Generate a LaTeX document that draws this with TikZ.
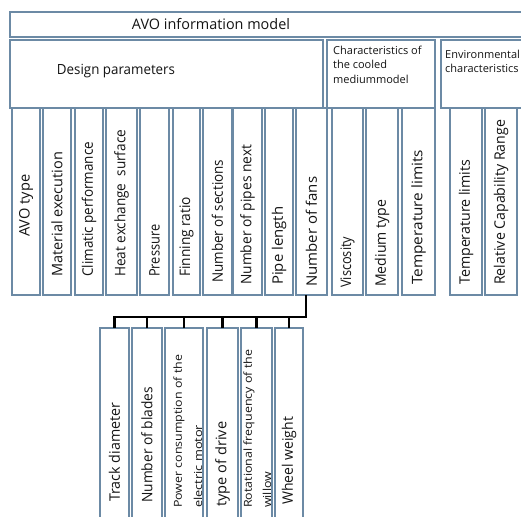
\documentclass[tikz,border=0pt]{standalone}
\usepackage{fontspec}
\setmainfont{Open Sans}
\usepackage{graphicx}
\definecolor{bcol}{RGB}{108,138,165}
\definecolor{tcol}{RGB}{20,20,20}
\tikzset{
  box/.style={draw=bcol, line width=1.6pt, inner sep=0pt, outer sep=0pt, anchor=north west},
  vt/.style={rotate=90, anchor=west, inner sep=0pt, text=tcol, font=\fontsize{14.5}{16}\selectfont},
  vts/.style={rotate=90, anchor=west, inner sep=0pt, text=tcol, font=\fontsize{11}{13}\selectfont},
  ht/.style={inner sep=0pt, text=tcol},
  bus/.style={line width=2.6pt, draw=black}
}
% name, x1, x2, y1, y2, text, text bottom y, text length
\newcommand\vcol[8]{%
  \node[box, minimum width={#3-#2}, minimum height={#5-#4}] (#1) at (#2,#4) {};
  \node[vt] (#1t) at ({(#2+#3)/2},#7) {\resizebox{#8pt}{\height}{#6}};
}
\begin{document}
\begin{tikzpicture}[x=1pt,y=-1pt]
\useasboundingbox (0,0) rectangle (521,516);
\clip (0,0) rectangle (521,516);
\fill[white] (0,0) rectangle (521,516);
% top level
\node[box, minimum width=540, minimum height=25] (top) at (10,12) {};
\node[ht, font=\fontsize{14.5}{16}\selectfont] (topt) at (211,24.5) {\resizebox{158pt}{\height}{AVO information model}};
% groups
\node[box, minimum width=313, minimum height=68] (design) at (10,40) {};
\node[ht, font=\fontsize{14}{16}\selectfont] (designt) at (116,71.5) {\resizebox{118pt}{\height}{Design parameters}};
\node[box, minimum width=108, minimum height=68] (medium) at (327,40) {};
\node[ht, anchor=north west, align=left, font=\fontsize{11}{14.5}\selectfont] (mediumt) at (333,45.5) {Characteristics of\\the cooled\\mediummodel};
\node[box, minimum width=100, minimum height=68] (env) at (441,40) {};
\node[ht, anchor=north west, align=left, font=\fontsize{11}{14.5}\selectfont] (envt) at (445,49.5) {Environmental\\characteristics};
% columns
\vcol{c1}{12}{40}{108}{295}{AVO type}{237}{62}
\vcol{c2}{43}{71}{108}{295}{Material execution}{277}{125}
\vcol{c3}{75}{103}{108}{295}{Climatic performance}{277}{135}
\vcol{c4}{106}{137}{108}{295}{Heat exchange\ \ surface}{277}{147}
\vcol{c5}{140}{169}{108}{295}{Pressure}{277}{52}
\vcol{c6}{173}{200}{108}{295}{Finning ratio}{277}{80}
\vcol{c7}{203}{232}{108}{295}{Number of sections}{283}{123}
\vcol{c8}{233}{262}{108}{295}{Number of pipes next}{285}{140}
\vcol{c9}{265}{293}{108}{295}{Pipe length}{285}{78}
\vcol{fans}{296}{327}{108}{295}{Number of fans}{287}{110}
\vcol{c11}{332}{363}{108}{295}{Viscosity}{288}{51}
\vcol{c12}{366}{398}{108}{295}{Medium type}{287}{87}
\vcol{c13}{402}{435}{108}{295}{Temperature limits}{285}{135}
\vcol{c14}{450}{482}{108}{295}{Temperature limits}{285}{125}
\vcol{c15}{485}{517}{108}{295}{Relative Capability Range}{285}{165}
% fan sub-parameters
\vcol{track}{100}{129}{328}{530}{Track diameter}{502}{99}
\vcol{blades}{132}{162}{328}{530}{Number of blades}{503}{116}
\node[box, minimum width=38, minimum height=202] (power) at (165,328) {};
\node[vts] (pw1) at (179,508) {\resizebox{153pt}{\height}{Power consumption of the}};
\node[vts] (pw2) at (198,508) {\resizebox{83pt}{\height}{electric motor}};
\vcol{drive}{207}{238}{328}{530}{type of drive}{507}{85}
\node[box, minimum width=31, minimum height=202] (rot) at (241,328) {};
\node[vts] (rf1) at (249,508) {\resizebox{158pt}{\height}{Rotational frequency of the}};
\node[vts] (rf2) at (267,508) {\resizebox{36pt}{\height}{willow}};
\vcol{wheel}{275}{303}{328}{530}{Wheel weight}{505}{88}
% connectors
\coordinate (busR) at (306,317);
\draw[bus] ([xshift=-5.5pt]fans.south) -- (busR) -| (track.north);
\foreach \n in {blades,power,drive,rot,wheel}
  \draw[bus] (\n.north) -- (\n.north |- busR);
\end{tikzpicture}
\end{document}
